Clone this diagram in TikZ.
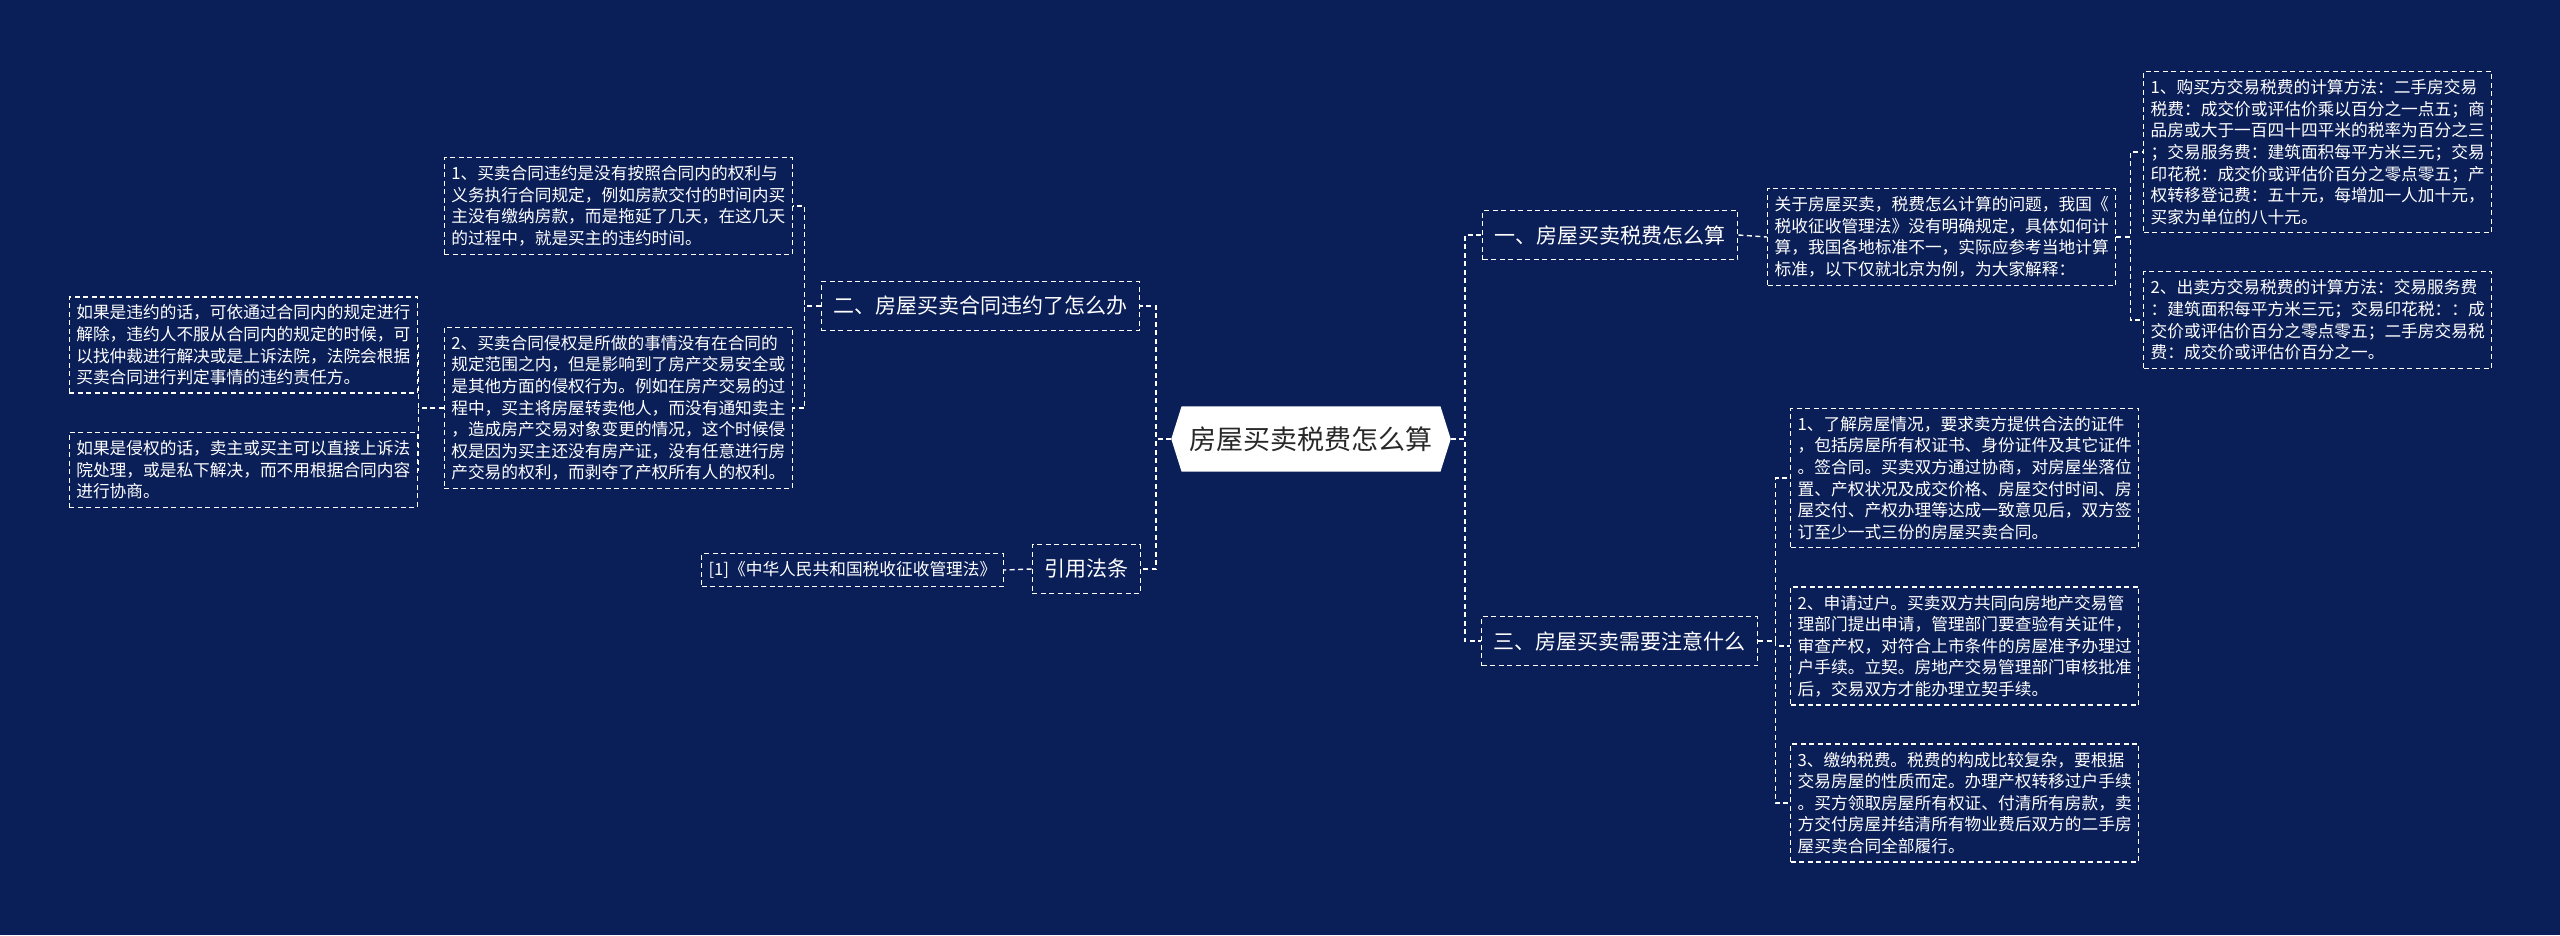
\documentclass[tikz,border=0pt]{standalone}
\usepackage{fontspec}
\setmainfont{Noto Sans CJK SC}
\usepackage{xcolor}
\usetikzlibrary{shapes.symbols}
\definecolor{bgnavy}{RGB}{10,30,88}
\definecolor{roottext}{RGB}{40,40,40}

\begin{document}
\begin{tikzpicture}[x=1pt, y=-1pt,
  conn/.style={white, line width=1.4pt, dash pattern=on 5pt off 3.5pt},
  topic/.style={draw=white, line width=1.4pt, dash pattern=on 5pt off 3.5pt, text=white,
    font=\fontsize{21}{25}\selectfont, inner xsep=12pt, minimum height=49pt},
  leafbox/.style={draw=white, line width=1.4pt, dash pattern=on 5pt off 3.5pt, text=white,
    align=left, font=\fontsize{16.7}{21.6}\selectfont, inner xsep=7pt, inner ysep=8pt}]

\fill[bgnavy] (0,0) rectangle (2560,935);
\useasboundingbox (0,0) rectangle (2560,935);

% central topic
\node[signal, signal to=west and east, signal pointer angle=145, fill=white, text=roottext,
  font=\fontsize{27}{30}\selectfont, inner xsep=8pt, inner ysep=20pt] (root) at (1311,439) {房屋买卖税费怎么算};

% main branches
\node[topic, anchor=west] (tax) at (1482,235) {一、房屋买卖税费怎么算};
\node[topic, anchor=west] (notice) at (1481,641) {三、房屋买卖需要注意什么};
\node[topic, anchor=east] (breach) at (1140,306) {二、房屋买卖合同违约了怎么办};
\node[topic, anchor=east] (cite) at (1141,569) {引用法条};

% right side, tax
\node[leafbox, anchor=west] (intro) at (1767,237) {关于房屋买卖，税费怎么计算的问题，我国《\\税收征收管理法》没有明确规定，具体如何计\\算，我国各地标准不一，实际应参考当地计算\\标准，以下仅就北京为例，为大家解释：};
\node[leafbox, anchor=west] (buyer) at (2143,152) {1、购买方交易税费的计算方法：二手房交易\\税费：成交价或评估价乘以百分之一点五；商\\品房或大于一百四十四平米的税率为百分之三\\；交易服务费：建筑面积每平方米三元；交易\\印花税：成交价或评估价百分之零点零五；产\\权转移登记费：五十元，每增加一人加十元，\\买家为单位的八十元。};
\node[leafbox, anchor=west] (seller) at (2143,320) {2、出卖方交易税费的计算方法：交易服务费\\：建筑面积每平方米三元；交易印花税：：成\\交价或评估价百分之零点零五；二手房交易税\\费：成交价或评估价百分之一。};

% right side, notice
\node[leafbox, anchor=west] (stepa) at (1790,478) {1、了解房屋情况，要求卖方提供合法的证件\\，包括房屋所有权证书、身份证件及其它证件\\。签合同。买卖双方通过协商，对房屋坐落位\\置、产权状况及成交价格、房屋交付时间、房\\屋交付、产权办理等达成一致意见后，双方签\\订至少一式三份的房屋买卖合同。};
\node[leafbox, anchor=west] (stepb) at (1790,646) {2、申请过户。买卖双方共同向房地产交易管\\理部门提出申请，管理部门要查验有关证件，\\审查产权，对符合上市条件的房屋准予办理过\\户手续。立契。房地产交易管理部门审核批准\\后，交易双方才能办理立契手续。};
\node[leafbox, anchor=west] (stepc) at (1790,803) {3、缴纳税费。税费的构成比较复杂，要根据\\交易房屋的性质而定。办理产权转移过户手续\\。买方领取房屋所有权证、付清所有房款，卖\\方交付房屋并结清所有物业费后双方的二手房\\屋买卖合同全部履行。};

% left side, breach
\node[leafbox, anchor=east] (violate) at (793,206) {1、买卖合同违约是没有按照合同内的权利与\\义务执行合同规定，例如房款交付的时间内买\\主没有缴纳房款，而是拖延了几天，在这几天\\的过程中，就是买主的违约时间。};
\node[leafbox, anchor=east] (infringe) at (793,408) {2、买卖合同侵权是所做的事情没有在合同的\\规定范围之内，但是影响到了房产交易安全或\\是其他方面的侵权行为。例如在房产交易的过\\程中，买主将房屋转卖他人，而没有通知卖主\\，造成房产交易对象变更的情况，这个时候侵\\权是因为买主还没有房产证，没有任意进行房\\产交易的权利，而剥夺了产权所有人的权利。};
\node[leafbox, anchor=east] (ifviolate) at (418,345) {如果是违约的话，可依通过合同内的规定进行\\解除，违约人不服从合同内的规定的时候，可\\以找仲裁进行解决或是上诉法院，法院会根据\\买卖合同进行判定事情的违约责任方。};
\node[leafbox, anchor=east] (ifinfringe) at (418,470) {如果是侵权的话，卖主或买主可以直接上诉法\\院处理，或是私下解决，而不用根据合同内容\\进行协商。};

% left side, cite
\node[leafbox, anchor=east] (lawref) at (1004,570) {[1]《中华人民共和国税收征收管理法》};

% connectors
\draw[conn] (root.west) -- ++(-15,0) |- (breach.east);
\draw[conn] (root.west) -- ++(-15,0) |- (cite.east);
\draw[conn] (root.east) -- ++(14,0) |- (tax.west);
\draw[conn] (root.east) -- ++(14,0) |- (notice.west);

\draw[conn] (tax.east) -- (intro.west);
\draw[conn] (intro.east) -- ++(14,0) |- (buyer.west);
\draw[conn] (intro.east) -- ++(14,0) |- (seller.west);

\draw[conn] (notice.east) -- ++(17,0) |- (stepa.west);
\draw[conn] (notice.east) -- ++(17,0) |- (stepb.west);
\draw[conn] (notice.east) -- ++(17,0) |- (stepc.west);

\draw[conn] (breach.west) -- ++(-16,0) |- (violate.east);
\draw[conn] (breach.west) -- ++(-16,0) |- (infringe.east);
\draw[conn] (infringe.west) -- ++(-25,0) |- (ifviolate.east);
\draw[conn] (infringe.west) -- ++(-25,0) |- (ifinfringe.east);

\draw[conn] (cite.west) -- (lawref.east);
\end{tikzpicture}
\end{document}
